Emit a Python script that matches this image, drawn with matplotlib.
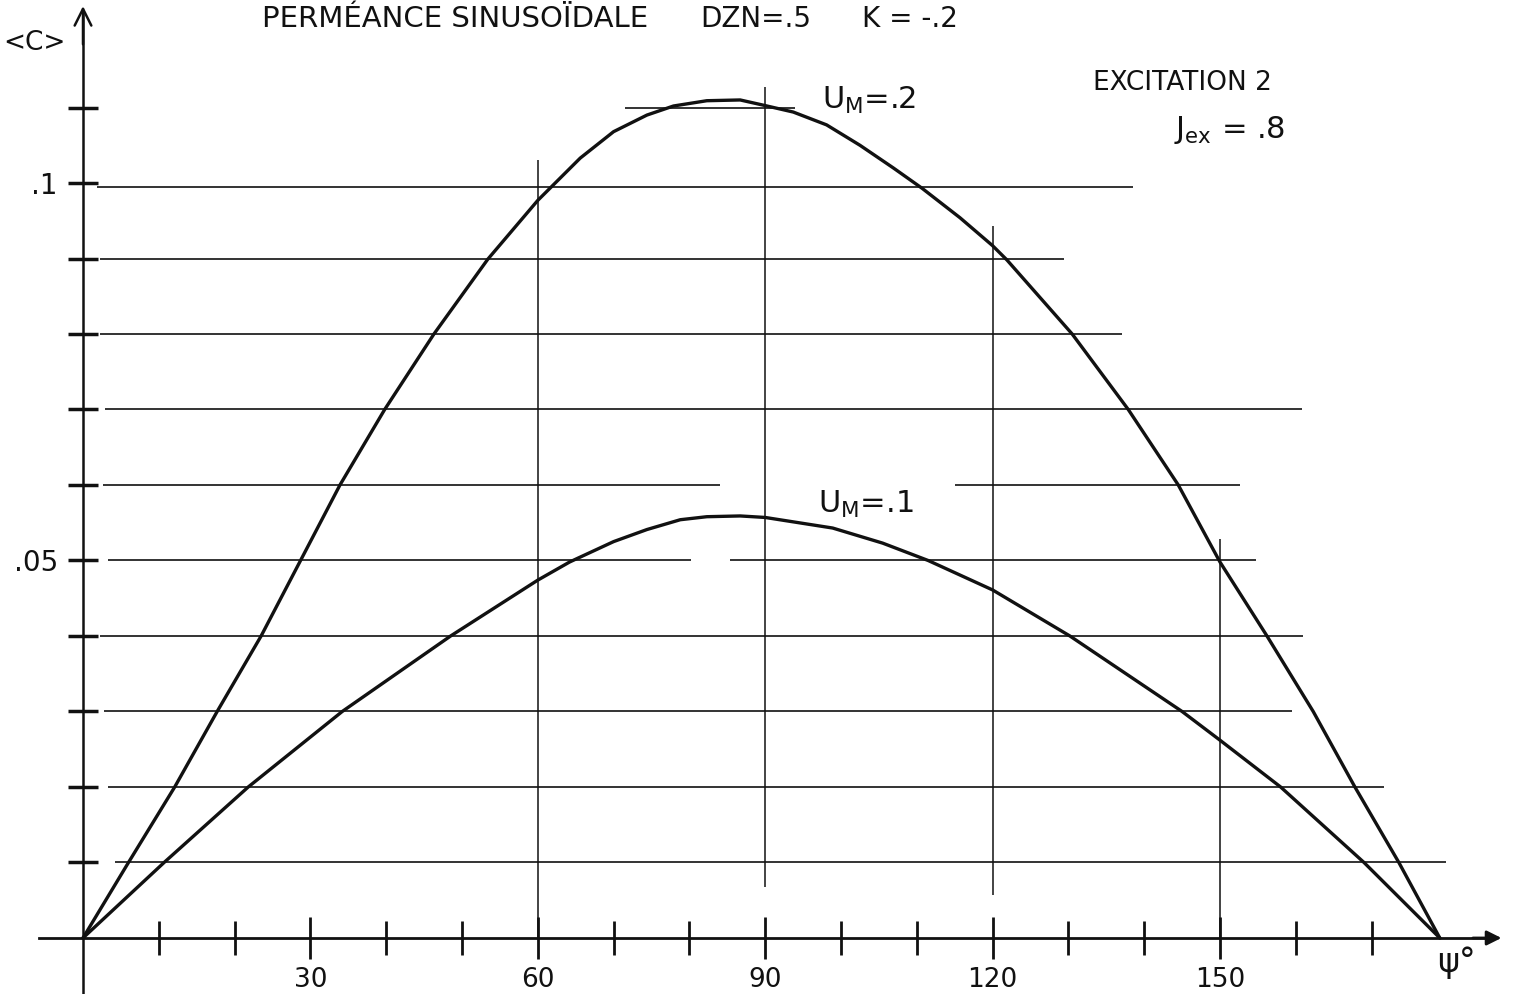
import matplotlib
matplotlib.use("Agg")
import matplotlib.pyplot as plt
from matplotlib.ticker import FixedLocator, FixedFormatter

# ---------------- data ----------------
angle_um2 = [0, 6.0, 12.1, 17.7, 23.5, 28.7, 33.9, 39.8, 46.3, 53.4, 60, 61.8,
             65.6, 70, 74.4, 77.9, 82.3, 86.7, 89.8, 93.7, 98.1, 102.5, 106.9,
             110.7, 115.7, 120, 121.9, 130.5, 137.9, 144.5, 150, 156.2, 162.3,
             167.8, 173.6, 179]
c_um2 = [0, .010, .020, .030, .040, .050, .060, .070, .080, .0899, .0977, .0995,
         .1033, .1068, .1090, .1102, .1109, .1110, .1103, .1094, .1077, .1050,
         .1020, .0993, .0954, .0917, .0898, .0800, .0700, .0600, .0498, .0400,
         .0300, .0200, .0100, 0]

angle_um1 = [0, 10.7, 21.8, 34.2, 48.5, 60, 64.2, 70, 74.4, 78.8, 82.3,
             86.7, 90, 98.9, 105.5, 111.5, 120, 130.2, 145, 150, 158, 169, 179]
c_um1 = [0, .010, .020, .030, .040, .0474, .0498, .0525, .0541, .0554,
         .0558, .0559, .0557, .0543, .0523, .0500, .0461, .0400, .0300, .0262,
         .0200, .0100, 0]

x_major = [30, 60, 90, 120, 150]
x_major_labels = ["30", "60", "90", "120", "150"]
x_minor = [10, 20, 40, 50, 70, 80, 100, 110, 130, 140, 160, 170]
y_ticks = [.01, .02, .03, .04, .05, .06, .07, .08, .09, .10, .11]
y_tick_labels = ["", "", "", "", ".05", "", "", "", "", ".1", ""]

curve_labels = [r"U$_\mathregular{M}$=.2", r"U$_\mathregular{M}$=.1"]
title_parts = ["PERMÉANCE SINUSOÏDALE", "DZN=.5", "K = -.2"]

# hand-ruled guide lines (layout of the drawing)
h_y = [.11, .0995, .09, .08, .07, .06, .06, .05, .05, .04, .03, .02, .01]
h_x0 = [71.5, 1.8, 2.2, 2.2, 2.9, 2.7, 115.0, 3.3, 85.4, 2.2, 2.8, 3.3, 4.2]
h_x1 = [93.9, 138.5, 129.4, 137.1, 160.8, 84.0, 152.6, 80.2, 154.8, 161.0, 159.5, 171.6, 179.8]
v_x = [60, 90, 120, 150]
v_y0 = [0.0, .0068, .0057, 0.0]
v_y1 = [.1030, .1127, .0943, .0528]

# ---------------- figure ----------------
plt.rcParams['font.family'] = ['DejaVu Sans']
fig = plt.figure(figsize=(15.19, 9.94), dpi=100)
ax = fig.add_axes([0, 0, 1, 1])
ax.set_xlim(-10.95, 189.45)
ax.set_ylim(-0.00742, 0.12424)

ink = "#111111"

ax.hlines(h_y, h_x0, h_x1, colors=ink, lw=1.2, zorder=1)
ax.vlines(v_x, v_y0, v_y1, colors=ink, lw=1.1, zorder=1)

ax.plot(angle_um2, c_um2, color=ink, lw=2.4, solid_joinstyle='round',
        solid_capstyle='round', zorder=3)
ax.plot(angle_um1, c_um1, color=ink, lw=2.4, solid_joinstyle='round',
        solid_capstyle='round', zorder=3)

# axes through the origin
for s in ['top', 'right']:
    ax.spines[s].set_visible(False)
ax.spines['left'].set_position(('data', 0))
ax.spines['bottom'].set_position(('data', 0))
ax.spines['left'].set_bounds(-0.0074, 0.1225)
ax.spines['bottom'].set_bounds(-5.8, 186)
ax.spines['left'].set_linewidth(1.8)
ax.spines['bottom'].set_linewidth(2.0)
ax.spines['left'].set_color(ink)
ax.spines['bottom'].set_color(ink)

ax.annotate('', xy=(0, 0.1238), xytext=(0, 0.1180),
            arrowprops=dict(arrowstyle='->', lw=1.8, color=ink, mutation_scale=30))
ax.annotate('', xy=(187.5, 0), xytext=(183, 0),
            arrowprops=dict(arrowstyle='-|>', lw=2.0, color=ink, mutation_scale=22))

ax.xaxis.set_major_locator(FixedLocator(x_major))
ax.xaxis.set_major_formatter(FixedFormatter(x_major_labels))
ax.xaxis.set_minor_locator(FixedLocator(x_minor))
ax.yaxis.set_major_locator(FixedLocator(y_ticks))
ax.yaxis.set_major_formatter(FixedFormatter(y_tick_labels))

ax.tick_params(axis='x', which='major', direction='inout', length=30, width=2,
               colors=ink, labelsize=19, pad=6)
ax.tick_params(axis='x', which='minor', direction='inout', length=24, width=2,
               colors=ink)
ax.tick_params(axis='y', which='major', direction='inout', length=22, width=2.5,
               colors=ink, labelsize=20, pad=7)

# annotations
ax.text(23.6, 0.1217, title_parts[0], fontsize=21, ha='left', va='center', color=ink)
ax.text(81.4, 0.1217, title_parts[1], fontsize=20, ha='left', va='center', color=ink)
ax.text(102.8, 0.1217, title_parts[2], fontsize=20, ha='left', va='center', color=ink)
ax.text(-6.4, 0.1186, "<C>", fontsize=19, ha='center', va='center', color=ink)
ax.text(133.2, 0.1132, "EXCITATION 2", fontsize=19, ha='left', va='center', color=ink)
ax.text(144.0, 0.1070, r"J$_\mathregular{ex}$ = .8", fontsize=22, ha='left', va='center', color=ink)
ax.text(97.5, 0.1110, curve_labels[0], fontsize=22, ha='left', va='center', color=ink)
ax.text(97.0, 0.0574, curve_labels[1], fontsize=22, ha='left', va='center', color=ink)
ax.text(178.6, -0.0033, "ψ°", fontsize=24, ha='left', va='center', color=ink)

fig.savefig("out.png", dpi=100, facecolor='white')
